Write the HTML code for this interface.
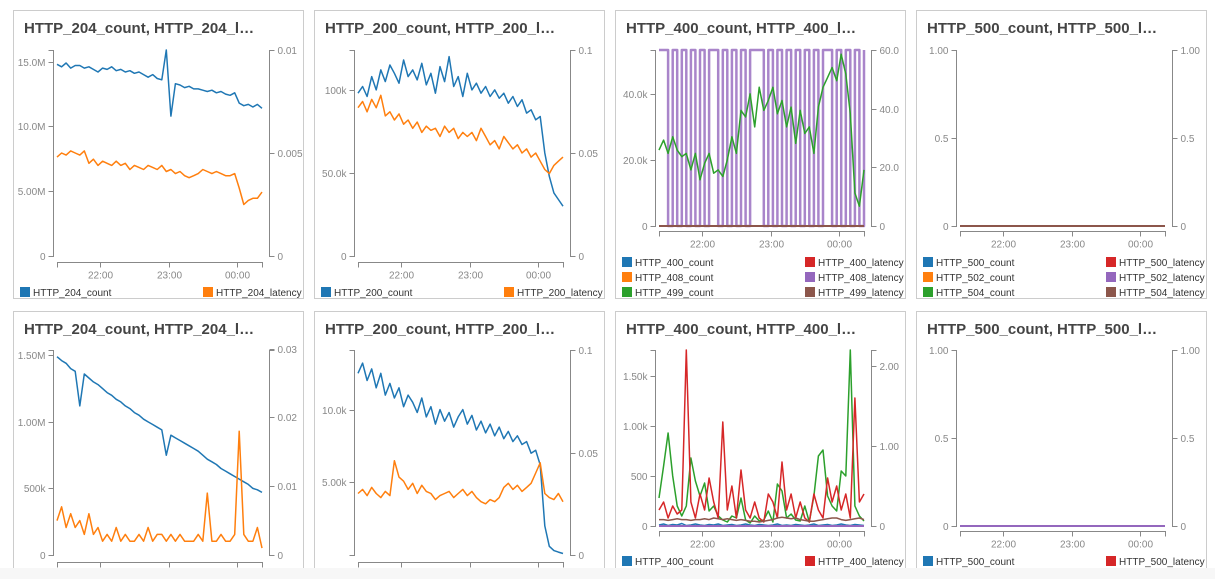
<!DOCTYPE html>
<html><head><meta charset="utf-8"><style>
html,body{margin:0;padding:0;background:#fff;}
svg{display:block;font-family:"Liberation Sans",Arial,sans-serif;}
.ax{stroke:#888;stroke-width:1;fill:none;}
.tl{fill:#888;font-size:10px;}
.lg{fill:#333;font-size:10px;}
.tt{fill:#444;font-size:15px;font-weight:bold;}
</style></head><body>
<svg id="dash" width="1215" height="579"></svg>
<script>
const times=["22:00","23:00","00:00"];
const timeMins=[38,98,158];
const STEP=4, SPAN=180;
// top row
const p1Count=[14.8,14.6,14.9,14.5,14.7,14.7,14.5,14.6,14.4,14.2,14.5,14.4,14.6,14.3,14.4,14.2,14.3,14.1,14.2,14.0,13.8,14.0,13.7,13.6,15.9,10.8,13.3,13.2,13.0,13.1,12.9,12.9,12.8,12.7,12.8,12.6,12.7,12.5,12.4,12.6,11.8,11.6,11.7,11.5,11.7,11.4];
const p1Lat=[0.0048,0.0050,0.0049,0.0051,0.0050,0.0049,0.0051,0.0045,0.0047,0.0044,0.0046,0.0045,0.0044,0.0046,0.0044,0.0045,0.0042,0.0044,0.0043,0.0042,0.0044,0.0043,0.0042,0.0044,0.0041,0.0042,0.0040,0.0041,0.0039,0.0038,0.0039,0.0040,0.0042,0.0041,0.0040,0.0041,0.0040,0.0039,0.0039,0.0040,0.0033,0.0025,0.0027,0.0028,0.0028,0.0031];
const p2Count=[98,102,96,108,100,112,105,115,110,104,118,108,112,106,116,103,110,98,114,105,120,102,108,96,110,100,104,98,102,96,100,95,98,92,96,90,94,86,88,82,84,62,48,38,34,30];
const p2Lat=[0.072,0.075,0.07,0.076,0.072,0.078,0.068,0.07,0.066,0.069,0.064,0.066,0.062,0.065,0.06,0.063,0.061,0.062,0.058,0.063,0.06,0.062,0.057,0.06,0.058,0.06,0.056,0.062,0.058,0.054,0.056,0.052,0.058,0.055,0.052,0.054,0.05,0.052,0.048,0.05,0.046,0.042,0.04,0.044,0.046,0.048];
const p3Purple=[60,60,0,60,0,60,0,60,0,60,0,60,60,0,60,0,60,0,60,0,60,60,60,0,60,0,60,0,60,0,60,0,60,0,60,0,60,60,0,60,0,60,0,60,0,60];
const p3Green=[23,26,22,27,23,21,22,17,22,14,19,22,16,17,15,20,27,22,35,33,40,30,42,35,38,42,34,38,30,36,25,35,28,30,22,36,42,45,48,44,52,46,34,10,6,17];
const zeros=new Array(46).fill(0);
// bottom row
const b1Count=[1.49,1.46,1.44,1.40,1.38,1.12,1.36,1.33,1.30,1.28,1.25,1.22,1.20,1.17,1.15,1.12,1.10,1.07,1.05,1.02,1.00,0.98,0.96,0.94,0.75,0.90,0.88,0.86,0.84,0.82,0.80,0.78,0.75,0.72,0.70,0.68,0.65,0.63,0.61,0.59,0.57,0.55,0.53,0.50,0.49,0.47];
const b1Lat=[0.005,0.007,0.004,0.006,0.004,0.005,0.003,0.006,0.003,0.004,0.002,0.003,0.002,0.004,0.002,0.003,0.002,0.002,0.003,0.002,0.004,0.002,0.003,0.003,0.002,0.003,0.002,0.003,0.002,0.002,0.002,0.003,0.002,0.009,0.002,0.002,0.003,0.002,0.002,0.003,0.018,0.003,0.002,0.002,0.004,0.001];
const b2Count=[12.5,13.2,12.0,12.8,11.5,12.5,11.0,11.8,10.8,11.5,10.2,11.0,10.5,9.8,10.8,9.5,10.2,9.0,10.0,9.2,9.8,8.8,9.5,10.0,9.0,9.6,8.6,9.2,8.4,9.0,8.2,8.8,8.0,8.5,7.8,8.2,7.6,7.8,7.0,7.2,6.2,2.0,0.6,0.3,0.2,0.1];
const b2Lat=[0.030,0.032,0.029,0.033,0.030,0.028,0.031,0.029,0.046,0.038,0.036,0.032,0.035,0.030,0.034,0.031,0.030,0.027,0.029,0.030,0.031,0.028,0.030,0.032,0.029,0.031,0.028,0.026,0.025,0.027,0.026,0.028,0.033,0.035,0.032,0.034,0.031,0.033,0.035,0.040,0.045,0.030,0.028,0.027,0.030,0.026];
const b3Red=[0.2,0.3,0.1,0.25,0.15,0.2,2.2,0.3,0.1,0.4,0.2,0.6,0.3,0.1,1.3,0.2,0.5,0.1,0.7,0.2,0.1,0.3,0.1,0.05,0.4,0.3,0.1,0.8,0.2,0.4,0.1,0.3,0.1,0.05,0.4,0.2,0.1,0.6,0.3,0.5,0.2,0.4,0.1,1.6,0.3,0.4];
const b3Green=[280,600,930,500,200,100,200,680,450,300,430,150,200,100,60,40,100,80,280,60,30,100,50,60,150,40,420,350,80,120,60,50,200,40,300,700,760,300,200,150,550,500,1760,200,100,50];
const b3Brown=[0.08,0.08,0.07,0.08,0.09,0.08,0.08,0.07,0.08,0.08,0.09,0.08,0.1,0.09,0.08,0.09,0.08,0.07,0.08,0.07,0.06,0.06,0.05,0.06,0.07,0.08,0.1,0.11,0.1,0.09,0.1,0.08,0.07,0.06,0.06,0.07,0.08,0.09,0.1,0.1,0.08,0.07,0.08,0.09,0.1,0.08];
const b3Blue=[10,20,5,15,10,25,5,10,20,10,5,15,10,20,5,10,15,5,10,20,10,5,15,10,5,10,20,5,10,5,15,10,5,10,20,5,10,15,5,10,20,10,5,15,10,5];

const C={blue:"#1f77b4",orange:"#ff7f0e",green:"#2ca02c",red:"#d62728",purple:"#9467bd",brown:"#8c564b"};
const NS="http://www.w3.org/2000/svg";
const svg=document.getElementById('dash');
function mk(tag,attrs,parent){const e=document.createElementNS(NS,tag);for(const k in attrs)e.setAttribute(k,attrs[k]);(parent||svg).appendChild(e);return e;}

const panels=[
 {px:13,py:10,title:"HTTP_204_count, HTTP_204_l…",yTop:50,yBot:256,axY:262,lMax:15.9,lT:[0,5,10,15],lL:["0","5.00M","10.0M","15.0M"],rMax:0.01,rT:[0,0.005,0.01],rL:["0","0.005","0.01"],
  series:[{d:p1Count,ax:"l",c:C.blue},{d:p1Lat,ax:"r",c:C.orange}],legend:[["HTTP_204_count",C.blue,0,0],["HTTP_204_latency",C.orange,1,0]],legY:292},
 {px:314,py:10,title:"HTTP_200_count, HTTP_200_l…",yTop:50,yBot:256,axY:262,lMax:124,lT:[0,50,100],lL:["0","50.0k","100k"],rMax:0.1,rT:[0,0.05,0.1],rL:["0","0.05","0.1"],
  series:[{d:p2Count,ax:"l",c:C.blue},{d:p2Lat,ax:"r",c:C.orange}],legend:[["HTTP_200_count",C.blue,0,0],["HTTP_200_latency",C.orange,1,0]],legY:292},
 {px:615,py:10,title:"HTTP_400_count, HTTP_400_l…",yTop:50,yBot:226,axY:231,lMax:53.3,lT:[0,20,40],lL:["0","20.0k","40.0k"],rMax:60,rT:[0,20,40,60],rL:["0","20.0","40.0","60.0"],
  series:[{d:p3Purple,ax:"r",c:C.purple,step:true,w:2.5,op:0.8},{d:p3Green,ax:"l",c:C.green},{d:zeros,ax:"r",c:C.brown,w:2}],
  legend:[["HTTP_400_count",C.blue,0,0],["HTTP_400_latency",C.red,1,0],["HTTP_408_count",C.orange,0,1],["HTTP_408_latency",C.purple,1,1],["HTTP_499_count",C.green,0,2],["HTTP_499_latency",C.brown,1,2]],legY:262},
 {px:916,py:10,title:"HTTP_500_count, HTTP_500_l…",yTop:50,yBot:226,axY:231,lMax:1,lT:[0,0.5,1],lL:["0","0.5","1.00"],rMax:1,rT:[0,0.5,1],rL:["0","0.5","1.00"],
  series:[{d:zeros,ax:"l",c:C.brown,w:2}],
  legend:[["HTTP_500_count",C.blue,0,0],["HTTP_500_latency",C.red,1,0],["HTTP_502_count",C.orange,0,1],["HTTP_502_latency",C.purple,1,1],["HTTP_504_count",C.green,0,2],["HTTP_504_latency",C.brown,1,2]],legY:262},
 {px:13,py:311,title:"HTTP_204_count, HTTP_204_l…",yTop:350,yBot:555,axY:562,lMax:1.54,lT:[0,0.5,1,1.5],lL:["0","500k","1.00M","1.50M"],rMax:0.0298,rT:[0,0.01,0.02,0.03],rL:["0","0.01","0.02","0.03"],
  series:[{d:b1Count,ax:"l",c:C.blue},{d:b1Lat,ax:"r",c:C.orange}],legend:[],legY:600},
 {px:314,py:311,title:"HTTP_200_count, HTTP_200_l…",yTop:350,yBot:555,axY:562,lMax:14.1,lT:[5,10],lL:["5.00k","10.0k"],rMax:0.1,rT:[0,0.05,0.1],rL:["0","0.05","0.1"],
  series:[{d:b2Count,ax:"l",c:C.blue},{d:b2Lat,ax:"r",c:C.orange}],legend:[],legY:600},
 {px:615,py:311,title:"HTTP_400_count, HTTP_400_l…",yTop:350,yBot:526,axY:531,lMax:1760,lT:[0,500,1000,1500],lL:["0","500","1.00k","1.50k"],rMax:2.2,rT:[0,1,2],rL:["0","1.00","2.00"],
  series:[{d:b3Blue,ax:"l",c:C.blue},{d:b3Green,ax:"l",c:C.green},{d:b3Red,ax:"r",c:C.red},{d:b3Brown,ax:"r",c:C.brown},{d:zeros,ax:"r",c:C.purple,w:2}],
  legend:[["HTTP_400_count",C.blue,0,0],["HTTP_400_latency",C.red,1,0]],legY:561},
 {px:916,py:311,title:"HTTP_500_count, HTTP_500_l…",yTop:350,yBot:526,axY:531,lMax:1,lT:[0,0.5,1],lL:["0","0.5","1.00"],rMax:1,rT:[0,0.5,1],rL:["0","0.5","1.00"],
  series:[{d:zeros,ax:"l",c:C.purple,w:2}],
  legend:[["HTTP_500_count",C.blue,0,0],["HTTP_500_latency",C.red,1,0]],legY:561}
];

panels.forEach((p,pi)=>{
  const g=mk('g',{});
  
  
  const box=mk('rect',{x:p.px+0.5,y:p.py+0.5,width:290,height:288,fill:"#fff",stroke:"#ccc"},g);
  
  
  const t=mk('text',{x:p.px+11,y:p.py+23,class:"tt"},g);t.textContent=p.title;
  
  
  const lx=p.px+40.5, rx=p.px+256.5, x0=p.px+44, x1=p.px+249;
  const X=tm=>x0+tm/SPAN*(x1-x0);
  const YL=v=>p.yBot-v/p.lMax*(p.yBot-p.yTop);
  const YR=v=>p.yBot-v/p.rMax*(p.yBot-p.yTop);
  // left axis
  const la=mk('path',{class:"ax",d:`M${lx-5},${p.yTop+.5}H${lx}V${p.yBot+.5}H${lx-5}`},g);
  
  
  p.lT.forEach((v,i)=>{const y=Math.round(YL(v))+.5;mk('line',{class:"ax",x1:lx-5,x2:lx,y1:y,y2:y},g);
    const tx=mk('text',{x:lx-8,y:y+3.5,class:"tl","text-anchor":"end"},g);tx.textContent=p.lL[i];
    
    });
  const ra=mk('path',{class:"ax",d:`M${rx+5},${p.yTop+.5}H${rx}V${p.yBot+.5}H${rx+5}`},g);
  
  
  p.rT.forEach((v,i)=>{const y=Math.round(YR(v))+.5;mk('line',{class:"ax",x1:rx,x2:rx+5,y1:y,y2:y},g);
    const tx=mk('text',{x:rx+8,y:y+3.5,class:"tl"},g);tx.textContent=p.rL[i];
    
    });
  // x axis
  const ay=p.axY+.5;
  const xa=mk('path',{class:"ax",d:`M${x0+.5},${ay+5}V${ay}H${x1+.5}V${ay+5}`},g);
  
  
  timeMins.forEach((m,i)=>{const x=Math.round(X(m))+.5;mk('line',{class:"ax",x1:x,x2:x,y1:ay,y2:ay+5},g);
    const tx=mk('text',{x:x,y:ay+16,class:"tl","text-anchor":"middle"},g);tx.textContent=times[i];
    
    });
  // series
  p.series.forEach(s=>{
    const Y=s.ax==="l"?YL:YR;let d="";
    s.d.forEach((v,i)=>{const x=X(i*STEP).toFixed(1),y=Y(v).toFixed(1);
      if(i===0)d+=`M${x},${y}`;else if(s.step)d+=`H${x}V${y}`;else d+=`L${x},${y}`;});
    const pa=mk('path',{d:d,fill:"none",stroke:s.c,"stroke-width":s.w||1.5,"stroke-opacity":s.op||1,"stroke-linejoin":"round"},g);
    
    
  });
  // legend
  p.legend.forEach(L=>{
    const bx=p.px+(L[2]?190:7), by=p.legY+L[3]*15-5;
    const sq=mk('rect',{x:bx,y:by,width:10,height:10,fill:L[1]},g);
    
    
    const tx=mk('text',{x:bx+13,y:by+9,class:"lg"},g);tx.textContent=L[0];
    
    
  });
});
const band=mk('rect',{x:0,y:568,width:1215,height:11,fill:"#f7f7f7"});


</script>
</body></html>
